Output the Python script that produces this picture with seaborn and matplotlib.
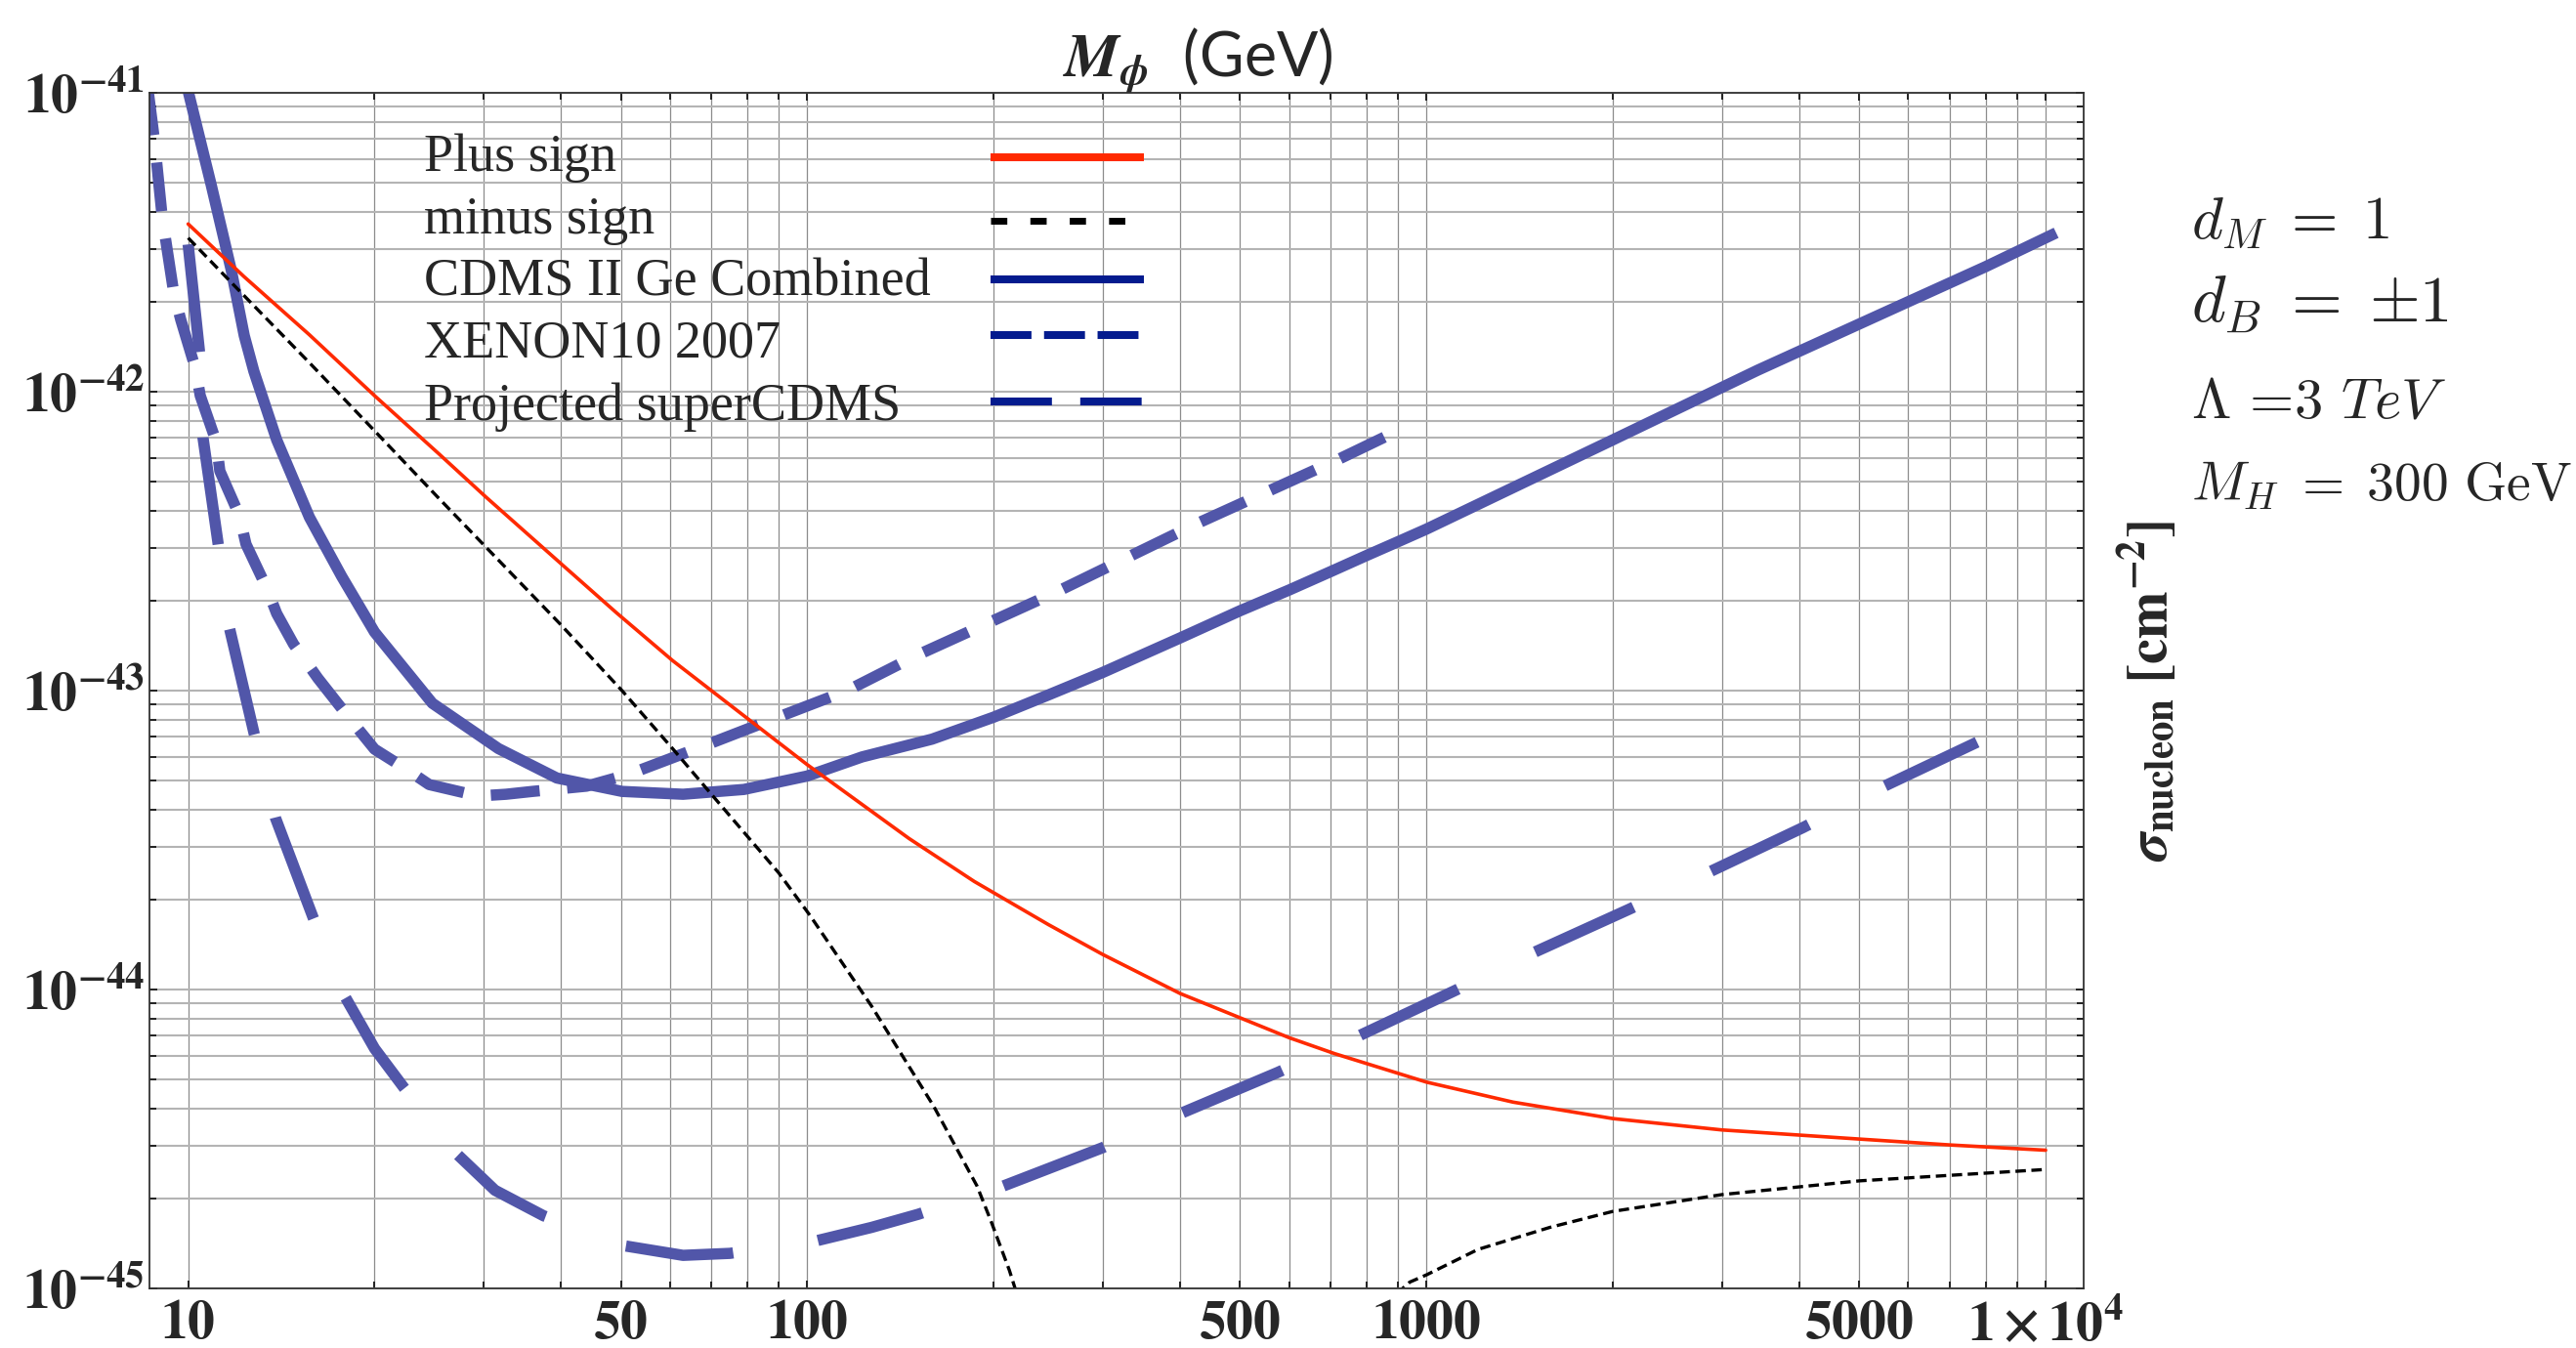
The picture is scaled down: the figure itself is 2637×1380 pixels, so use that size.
import numpy as np
import pandas as pd
import seaborn as sns
import matplotlib.pyplot as plt
from matplotlib.lines import Line2D
from matplotlib.ticker import FixedLocator, LogLocator, NullFormatter

# values (GeV, cm^2)
plus_mass = [10, 12.3, 15.7, 20, 25.4, 30.2, 40, 49.2, 60.6, 70, 100, 146, 186, 245,
             300, 400, 600, 711, 1000, 1380, 2000, 3000, 5000, 7000, 10000]
plus_sigma = [3.64e-42, 2.43e-42, 1.55e-42, 9.7e-43, 6.2e-43, 4.46e-43, 2.66e-43, 1.82e-43,
              1.26e-43, 1.0e-43, 5.65e-44, 3.2e-44, 2.3e-44, 1.65e-44, 1.31e-44, 9.7e-45,
              6.9e-45, 6.1e-45, 4.9e-45, 4.2e-45, 3.7e-45, 3.39e-45, 3.16e-45, 3.02e-45, 2.9e-45]

minus_lo_mass = [10, 12.3, 15.7, 20, 25.4, 29.9, 40, 50.2, 60.7, 70, 90, 101, 127, 160,
                 188, 198, 212, 222]
minus_lo_sigma = [3.27e-42, 2.1e-42, 1.25e-42, 7.4e-43, 4.4e-43, 3.1e-43, 1.66e-43, 1.0e-43,
                  6.37e-44, 4.5e-44, 2.45e-44, 1.77e-44, 8.8e-45, 4.07e-45, 2.2e-45, 1.68e-45,
                  1.15e-45, 8.5e-46]
minus_hi_mass = [895, 940, 1000, 1211, 1582, 2000, 3000, 5000, 10000]
minus_hi_sigma = [9.6e-46, 1.05e-45, 1.11e-45, 1.35e-45, 1.6e-45, 1.81e-45, 2.06e-45,
                  2.29e-45, 2.5e-45]

cdms_mass = [9.85, 10.9, 11.74, 12.32, 12.77, 13.9, 15.7, 17.7, 20.0, 24.8, 31.7, 39.4, 50.2,
             63, 79, 100, 122.6, 159, 200, 246, 300, 400, 500, 600, 700, 800, 900, 1000,
             2000, 3427, 6000, 8000, 10400]
cdms_sigma = [1.15e-41, 4.9e-42, 2.55e-42, 1.54e-42, 1.17e-42, 6.9e-43, 3.8e-43, 2.41e-43,
              1.57e-43, 9.07e-44, 6.4e-44, 5.1e-44, 4.6e-44, 4.5e-44, 4.67e-44, 5.18e-44,
              6.0e-44, 6.88e-44, 8.15e-44, 9.7e-44, 1.15e-43, 1.5e-43, 1.85e-43, 2.17e-43,
              2.5e-43, 2.83e-43, 3.15e-43, 3.47e-43, 6.9e-43, 1.18e-42, 2.0e-42, 2.62e-42, 3.4e-42]

xenon_mass = [8.6, 8.82, 9.08, 9.48, 9.73, 10.27, 10.46, 11.1, 11.25, 12.1, 12.4, 13.4, 13.9,
              14.8, 15.3, 16.2, 18.2, 20.0, 22.6, 24.5, 29.4, 32.6, 36, 44, 51.4, 67, 89,
              116, 150, 254, 427, 716, 935]
xenon_sigma = [1.05e-41, 6.97e-42, 3.84e-42, 2.14e-42, 1.74e-42, 1.2e-42, 9.7e-43, 6.8e-43,
               5.43e-43, 3.85e-43, 3.09e-43, 2.2e-43, 1.81e-43, 1.43e-43, 1.3e-43, 1.1e-43,
               8.1e-44, 6.37e-44, 5.43e-44, 4.85e-44, 4.44e-44, 4.5e-44, 4.6e-44, 4.79e-44,
               5.24e-44, 6.45e-44, 8.1e-44, 1.0e-43, 1.31e-43, 2.15e-43, 3.63e-43, 5.9e-43, 7.7e-43]

super_mass = [10.0, 10.46, 10.57, 11.17, 11.66, 12.77, 13.83, 15.9, 17.9, 20.0, 22.3, 27.2,
              31.3, 37.5, 50.5, 63, 75, 103, 127, 151, 206, 299, 401, 574, 770, 1103, 1479,
              2118, 2860, 4055, 5408, 7750]
super_sigma = [3.11e-42, 1.29e-42, 7.0e-43, 3.14e-43, 1.62e-43, 7.24e-44, 3.76e-44, 1.75e-44,
               9.5e-45, 6.35e-45, 4.7e-45, 2.81e-45, 2.13e-45, 1.75e-45, 1.39e-45, 1.29e-45,
               1.31e-45, 1.44e-45, 1.6e-45, 1.77e-45, 2.19e-45, 2.95e-45, 3.85e-45, 5.27e-45,
               6.93e-45, 9.84e-45, 1.32e-44, 1.85e-44, 2.47e-44, 3.48e-44, 4.72e-44, 6.72e-44]

x_major = [10, 50, 100, 500, 1000, 5000, 10000]
x_major_labels = [r'$\mathbf{10}$', r'$\mathbf{50}$', r'$\mathbf{100}$', r'$\mathbf{500}$',
                  r'$\mathbf{1000}$', r'$\mathbf{5000}$', r'$\mathbf{1\times10^{4}}$']
y_major = [1e-45, 1e-44, 1e-43, 1e-42, 1e-41]
y_major_labels = [r'$\mathbf{10^{-45}}$', r'$\mathbf{10^{-44}}$', r'$\mathbf{10^{-43}}$',
                  r'$\mathbf{10^{-42}}$', r'$\mathbf{10^{-41}}$']

legend_labels = ['Plus sign', 'minus sign', 'CDMS II Ge Combined', 'XENON10 2007',
                 'Projected superCDMS']

sns.set_style('ticks')
plt.rcParams['font.family'] = ['Liberation Serif', 'DejaVu Serif']
plt.rcParams['mathtext.fontset'] = 'stix'

BLUE = '#5156a9'
NAVY = '#041b8e'
RED = '#ff2a00'

fig = plt.figure(figsize=(26.37, 13.8), dpi=100)
ax = fig.add_axes([153 / 2637, 61 / 1380, 1980 / 2637, 1224 / 1380])
ax.set_xscale('log')
ax.set_yscale('log')

blue_kw = dict(color=BLUE, lw=8.3, solid_capstyle='butt', dash_capstyle='butt',
               estimator=None, sort=False, ax=ax)
sns.lineplot(x=cdms_mass, y=cdms_sigma, **blue_kw)
sns.lineplot(x=xenon_mass, y=xenon_sigma, linestyle=(0, (4.35, 2.45)), **blue_kw)
sns.lineplot(x=super_mass, y=super_sigma, linestyle=(0, (9.6, 7.6)), **blue_kw)

sns.lineplot(x=plus_mass, y=plus_sigma, color=RED, lw=2.6, estimator=None, sort=False, ax=ax)
for m, s in [(minus_lo_mass, minus_lo_sigma), (minus_hi_mass, minus_hi_sigma)]:
    sns.lineplot(x=m, y=s, color='black', lw=2.4, linestyle=(0, (3.2, 1.7)),
                 estimator=None, sort=False, ax=ax)

ax.set_xlim(8.66, 11520)
ax.set_ylim(1e-45, 1e-41)

x_minor = [k * 10 ** e for e in range(1, 4) for k in range(1, 10)]
x_minor = [v for v in x_minor if v not in x_major]
ax.xaxis.set_major_locator(FixedLocator(x_major))
ax.xaxis.set_minor_locator(FixedLocator(x_minor))
ax.set_xticklabels(x_major_labels)
ax.xaxis.set_minor_formatter(NullFormatter())
ax.yaxis.set_major_locator(FixedLocator(y_major))
ax.yaxis.set_minor_locator(LogLocator(base=10, subs=np.arange(2, 10), numticks=50))
ax.set_yticklabels(y_major_labels)
ax.yaxis.set_minor_formatter(NullFormatter())

ax.set_axisbelow(True)
ax.grid(True, which='both', axis='x', color='#8c8c8c', lw=0.9)
ax.grid(True, which='both', axis='y', color='#b4b4b4', lw=1.5)

ax.tick_params(which='both', direction='in', top=True, right=True, labeltop=False,
               labelright=False, width=1.4, color='#222222')
ax.tick_params(which='major', length=6)
ax.tick_params(which='minor', length=5)
ax.tick_params(axis='x', labelsize=40, pad=8)
ax.tick_params(axis='y', labelsize=40, pad=3.5)
for sp in ax.spines.values():
    sp.set_color('#333333')
    sp.set_linewidth(1.3)

# axis titles
ax.xaxis.set_label_position('top')
ax.set_xlabel(r'$\mathbfit{M}_{\mathbfit{\phi}}$  (GeV)', fontsize=45, family='Lato')
ax.xaxis.set_label_coords(0.542, 1.013)
ax.yaxis.set_label_position('right')
ax.set_ylabel(r'$\mathbfit{\sigma}_{\mathbf{nucleon}}\ \mathbf{[cm^{-2}]}$', fontsize=42)
ax.yaxis.set_label_coords(1.0165, 0.5)

# legend drawn row by row: text on the left, sample line on the right
leg_styles = [dict(color=RED, lw=5.8, solid_capstyle='butt'),
              dict(color='black', lw=5.0, linestyle=(0, (2.4, 3.4)), dash_capstyle='butt'),
              dict(color=NAVY, lw=5.8, solid_capstyle='butt'),
              dict(color=NAVY, lw=5.8, linestyle=(0, (5.2, 1.6)), dash_capstyle='butt'),
              dict(color=NAVY, lw=5.8, linestyle=(0, (7.8, 3.6)), dash_capstyle='butt')]
text_base = [0.9346, 0.8824, 0.8301, 0.7786, 0.7263]
line_y = [0.946, 0.893, 0.844, 0.797, 0.742]
for lab, st, tb, ly in zip(legend_labels, leg_styles, text_base, line_y):
    ax.text(0.1419, tb, lab, transform=ax.transAxes, fontsize=39, va='baseline', ha='left')
    ax.add_line(Line2D([0.435, 0.514], [ly, ly], transform=ax.transAxes, **st))

# parameter box on the right
params = [(r'$d_M \;=\; 1$', 0.8225, 44),
          (r'$d_B \;=\; {\pm}1$', 0.7616, 48),
          (r'$\Lambda$ =3 $TeV$', 0.6899, 42),
          (r'$M_H \;=\; 300\ \mathrm{GeV}$', 0.6283, 40)]
for txt, yb, fs in params:
    fig.text(0.8506, yb, txt, fontsize=fs, va='baseline', ha='left',
             family='cmr10', math_fontfamily='cm')

fig.savefig('out.png', dpi=100)
